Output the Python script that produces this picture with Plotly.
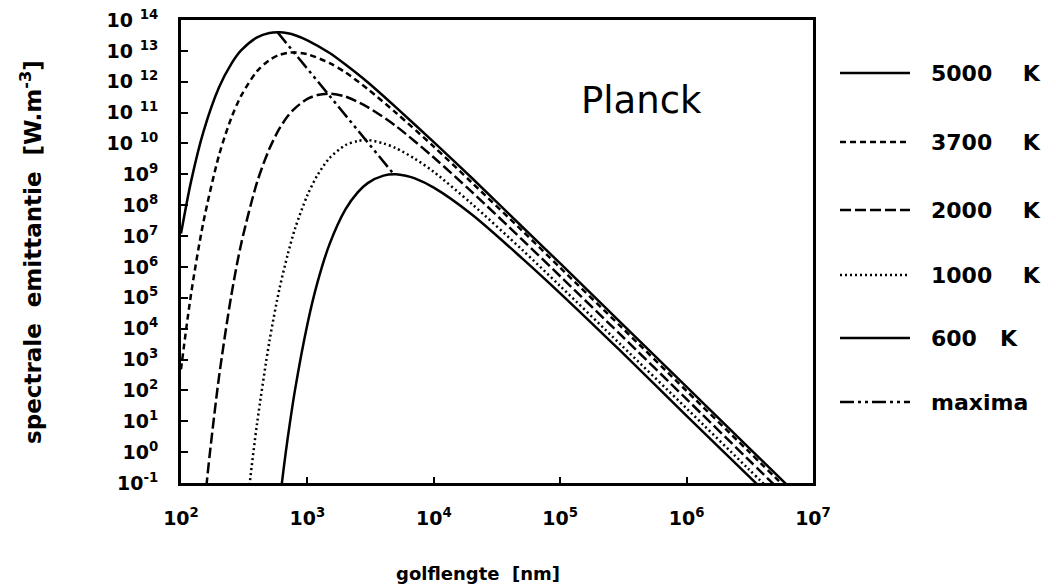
import plotly.graph_objects as go

# ---- data (wavelength in nm, spectral exitance in W/m^3) ----
wl_5000 = [100, 120, 150, 200, 250, 300, 400, 500, 600, 700, 800, 1000, 1500, 2000,
           3000, 5000, 1e4, 2e4, 5e4, 1e5, 3e5, 1e6, 3e6, 1e7]
m_5000 = [1.2e7, 5.8e8, 2.3e10, 6.6e11, 3.8e12, 1.05e13, 2.75e13, 3.8e13, 4.0e13, 3.7e13,
          3.2e13, 2.2e13, 8.5e12, 3.6e12, 9.6e11, 1.5e11, 1.1e10, 7.6e8, 2.0e7, 1.3e6,
          1.6e4, 130, 1.6, 0.013]

wl_3700 = [100, 120, 150, 200, 250, 300, 400, 500, 600, 700, 800, 1000, 1500, 2000,
           3000, 5000, 1e4, 2e4, 5e4, 1e5, 3e5, 1e6, 3e6, 1e7]
m_3700 = [480, 1.3e5, 2.7e7, 4.2e9, 6.7e10, 3.6e11, 2.2e12, 5.0e12, 7.4e12, 8.6e12,
          8.9e12, 7.8e12, 4.0e12, 2.0e12, 5.8e11, 1.0e11, 7.9e9, 5.4e8, 1.5e7, 9.4e5,
          1.2e4, 96, 1.2, 0.0096]

wl_2000 = [150, 160, 170, 200, 250, 300, 400, 500, 600, 700, 800, 1000, 1200, 1500,
           2000, 3000, 5000, 1e4, 2e4, 5e4, 1e5, 3e5, 1e6, 3e6, 1e7]
m_2000 = [0.0073, 0.106, 1.1, 280, 1.2e5, 5.9e6, 5.6e8, 6.7e9, 3.0e10, 7.7e10, 1.4e11,
          2.8e11, 3.7e11, 4.1e11, 3.3e11, 1.5e11, 3.7e10, 3.5e9, 2.7e8, 7.7e6, 5.0e5,
          6.4e3, 52, 0.64, 0.0052]

wl_1000 = [300, 350, 400, 500, 600, 700, 800, 1000, 1200, 1500, 2000, 2500, 3000, 4000,
           5000, 7000, 1e4, 2e4, 5e4, 1e5, 3e5, 1e6, 3e6, 1e7]
m_1000 = [2.3e-4, 0.1, 8.7, 3.8e3, 1.9e5, 2.6e6, 1.8e7, 2.1e8, 9.3e8, 3.4e9, 8.8e9,
          1.2e10, 1.3e10, 1.0e10, 7.1e9, 3.3e9, 1.2e9, 1.1e8, 3.6e6, 2.4e5, 3.1e3, 26,
          0.32, 0.0026]

wl_600 = [600, 650, 700, 800, 1000, 1200, 1500, 2000, 2500, 3000, 4000, 5000, 6000, 7000,
          1e4, 2e4, 5e4, 1e5, 3e5, 1e6, 3e6, 1e7]
m_600 = [0.021, 0.31, 3.0, 110, 1.4e4, 3.1e5, 5.6e6, 7.3e7, 2.6e8, 5.2e8, 9.1e8, 1.0e9,
         9.0e8, 7.5e8, 3.7e8, 5.0e7, 1.9e6, 1.4e5, 1.9e3, 15, 0.19, 0.0016]

wl_max = [580, 783, 1449, 2898, 4830]
m_max = [4.0e13, 8.9e12, 4.1e11, 1.3e10, 1.0e9]

series_names = ["5000\u00a0\u00a0\u00a0\u00a0K", "3700\u00a0\u00a0\u00a0\u00a0K",
                "2000\u00a0\u00a0\u00a0\u00a0K", "1000\u00a0\u00a0\u00a0\u00a0K",
                "600\u00a0\u00a0\u00a0K", "maxima"]

x_tickvals = [1e2, 1e3, 1e4, 1e5, 1e6, 1e7]
x_ticktext = ["10<sup>2</sup>", "10<sup>3</sup>", "10<sup>4</sup>", "10<sup>5</sup>",
              "10<sup>6</sup>", "10<sup>7</sup>"]
y_exponents = list(range(-1, 15))
y_tickvals = [10.0 ** e for e in y_exponents]
y_ticktext = ["10<sup>%d</sup>" % e if e < 10 else "10 <sup>%d</sup>" % e for e in y_exponents]

# ---- styles ----
dashes = ["solid", "6px,4px", "11px,4px", "2px,3px", "solid", "14px,4px,3px,4px,3px,4px"]
LW = 2.5
series = [(wl_5000, m_5000), (wl_3700, m_3700), (wl_2000, m_2000),
          (wl_1000, m_1000), (wl_600, m_600), (wl_max, m_max)]

fig = go.Figure()
for (xs, ys), name, dash in zip(series, series_names, dashes):
    fig.add_trace(go.Scatter(
        x=xs, y=ys, mode="lines", name=name,
        line=dict(color="black", width=LW, dash=dash,
                  shape="spline" if name != "maxima" else "linear", smoothing=0.8),
        showlegend=False))

tick_font = dict(family="DejaVu Sans", size=19, color="black", weight=700)

fig.update_xaxes(type="log", range=[2, 7], tickvals=x_tickvals, ticktext=x_ticktext,
                 tickfont=tick_font, ticks="inside", ticklen=6, tickwidth=2,
                 tickcolor="black", showline=True, linewidth=3, linecolor="black",
                 mirror=True, showgrid=False, zeroline=False, ticklabelstandoff=16,
                 ticklabeloverflow="allow")
fig.update_yaxes(type="log", range=[-1, 14], tickvals=y_tickvals, ticktext=y_ticktext,
                 tickfont=tick_font, ticks="inside", ticklen=7, tickwidth=2,
                 tickcolor="black", showline=True, linewidth=3, linecolor="black",
                 mirror=True, showgrid=False, zeroline=False, ticklabelstandoff=16,
                 ticklabeloverflow="allow")

# ---- layout geometry (page has an 8px body margin) ----
OFF = 8
W, H = 1056 - OFF, 588 - OFF
plot_l, plot_r, plot_t, plot_b = 181, 813, 20, 483   # target page pixels


def px_to_paper_x(px):
    return (px - plot_l) / (plot_r - plot_l)


def px_to_paper_y(py):
    return (plot_b - py) / (plot_b - plot_t)


legend_rows_px = [73, 142, 210, 275, 338, 402]
shapes = []
annotations = []
for name, dash, py in zip(series_names, dashes, legend_rows_px):
    shapes.append(dict(type="line", xref="paper", yref="paper",
                       x0=px_to_paper_x(840), x1=px_to_paper_x(910),
                       y0=px_to_paper_y(py), y1=px_to_paper_y(py),
                       line=dict(color="black", width=LW, dash=dash)))
    annotations.append(dict(xref="paper", yref="paper", x=px_to_paper_x(929),
                            y=px_to_paper_y(py), xanchor="left", yanchor="middle",
                            text=name, showarrow=False,
                            font=dict(family="DejaVu Sans", size=22, color="black",
                                      weight=700)))

annotations.append(dict(xref="paper", yref="paper", x=px_to_paper_x(641),
                        y=px_to_paper_y(100), xanchor="center", yanchor="middle",
                        text="Planck", showarrow=False,
                        font=dict(family="DejaVu Sans", size=37, color="black")))
annotations.append(dict(xref="paper", yref="paper", x=px_to_paper_x(478),
                        y=px_to_paper_y(573), xanchor="center", yanchor="middle",
                        text="golflengte\u00a0\u00a0[nm]", showarrow=False,
                        font=dict(family="DejaVu Sans", size=18, color="black",
                                  weight=700)))
annotations.append(dict(xref="paper", yref="paper", x=px_to_paper_x(31),
                        y=px_to_paper_y(252), xanchor="center", yanchor="middle",
                        text="spectrale\u00a0\u00a0emittantie\u00a0\u00a0[W.m<sup>-3</sup>]",
                        textangle=-90, showarrow=False,
                        font=dict(family="DejaVu Sans", size=23, color="black",
                                  weight=700)))

fig.update_layout(width=W, height=H,
                  margin=dict(l=plot_l - OFF, r=W - (plot_r - OFF),
                              t=plot_t - OFF, b=H - (plot_b - OFF), autoexpand=False),
                  paper_bgcolor="white", plot_bgcolor="white",
                  shapes=shapes, annotations=annotations, showlegend=False)

fig.write_html("out.html")
